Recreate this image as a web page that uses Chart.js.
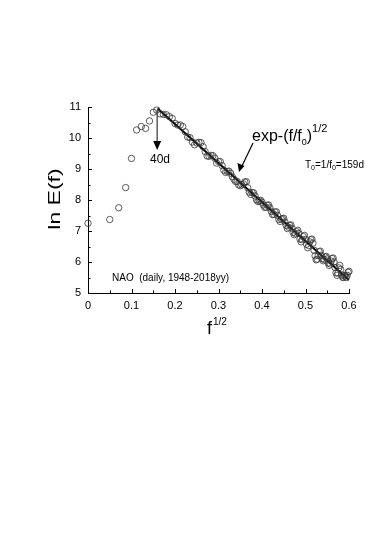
<!DOCTYPE html>
<html>
<head>
<meta charset="utf-8">
<script src="https://cdn.jsdelivr.net/npm/chart.js@4"></script>
<style>
  html, body { margin: 0; padding: 0; background: #fff; }
  #wrap { width: 374px; height: 536px; position: relative; }
</style>
</head>
<body>
<div id="wrap"><canvas id="spec" width="374" height="536"></canvas></div>
<script>
// spectrum points: x = f^(1/2), y = ln E(f)
var sqrtF = [0, 0.05, 0.0707, 0.0866, 0.1, 0.1118, 0.1225, 0.1323, 0.1414, 0.15,
  0.1581, 0.1658, 0.1732, 0.1803, 0.1871, 0.1936, 0.2, 0.2062, 0.2121, 0.2179,
  0.2236, 0.2291, 0.2345, 0.2398, 0.2449, 0.25, 0.255, 0.2598, 0.2646, 0.2693,
  0.2739, 0.2784, 0.2828, 0.2872, 0.2915, 0.2958, 0.3, 0.3041, 0.3082, 0.3122,
  0.3162, 0.3202, 0.324, 0.3279, 0.3317, 0.3354, 0.3391, 0.3428, 0.3464, 0.35,
  0.3536, 0.3571, 0.3606, 0.364, 0.3674, 0.3708, 0.3742, 0.3775, 0.3808, 0.3841,
  0.3873, 0.3905, 0.3937, 0.3969, 0.4, 0.4031, 0.4062, 0.4093, 0.4123, 0.4153,
  0.4183, 0.4213, 0.4243, 0.4272, 0.4301, 0.433, 0.4359, 0.4387, 0.4416, 0.4444,
  0.4472, 0.45, 0.4528, 0.4555, 0.4583, 0.461, 0.4637, 0.4664, 0.469, 0.4717,
  0.4743, 0.477, 0.4796, 0.4822, 0.4848, 0.4873, 0.4899, 0.4924, 0.495, 0.4975,
  0.5, 0.5025, 0.505, 0.5074, 0.5099, 0.5123, 0.5148, 0.5172, 0.5196, 0.522,
  0.5244, 0.5268, 0.5292, 0.5315, 0.5339, 0.5362, 0.5385, 0.5408, 0.5431, 0.5454,
  0.5477, 0.55, 0.5523, 0.5545, 0.5568, 0.559, 0.5612, 0.5635, 0.5657, 0.5679,
  0.5701, 0.5723, 0.5745, 0.5766, 0.5788, 0.581, 0.5831, 0.5852, 0.5874, 0.5895,
  0.5916, 0.5937, 0.5958, 0.5979, 0.6];
var lnE = [7.25, 7.37, 7.75, 8.40, 9.34, 10.26, 10.37, 10.31, 10.55, 10.83,
  10.90, 10.78, 10.76, 10.75, 10.69, 10.63, 10.47, 10.42, 10.42, 10.37,
  10.20, 10.03, 10.01, 9.87, 9.78, 9.84, 9.86, 9.85, 9.72, 9.56,
  9.42, 9.41, 9.44, 9.43, 9.35, 9.19, 9.24, 9.24, 9.11, 8.96,
  8.89, 8.92, 8.93, 8.86, 8.75, 8.67, 8.60, 8.60, 8.49, 8.46,
  8.49, 8.52, 8.58, 8.59, 8.39, 8.25, 8.18, 8.24, 8.23, 8.13,
  8.01, 7.95, 7.97, 7.99, 7.93, 7.84, 7.76, 7.77, 7.83, 7.84,
  7.74, 7.63, 7.53, 7.54, 7.61, 7.62, 7.50, 7.37, 7.31, 7.38,
  7.40, 7.41, 7.29, 7.18, 7.08, 7.12, 7.18, 7.20, 7.09, 6.95,
  6.88, 6.92, 6.98, 7.02, 6.92, 6.74, 6.65, 6.72, 6.82, 6.86,
  6.73, 6.57, 6.46, 6.53, 6.65, 6.72, 6.74, 6.61, 6.38, 6.20,
  6.07, 6.09, 6.21, 6.33, 6.35, 6.22, 6.11, 6.04, 6.08, 6.16,
  6.18, 6.10, 5.97, 5.89, 5.94, 6.03, 6.11, 6.13, 6.00, 5.82,
  5.65, 5.57, 5.64, 5.81, 5.89, 5.76, 5.58, 5.51, 5.50, 5.55,
  5.57, 5.50, 5.57, 5.67, 5.70];

// fitted line exp-(f/f0)^(1/2), T0 = 159d
var fitX = [0.16, 0.6];
var fitY = [10.95, 5.42];

var FONT = "'Liberation Sans', Arial, sans-serif";

var pts = sqrtF.map(function(x, i) { return {x: x, y: lnE[i]}; });
var fitPts = fitX.map(function(x, i) { return {x: x, y: fitY[i]}; });

// inward ticks + labels drawn on top
var decor = {
    id: 'decor',
    afterDraw: function(chart) {
        var c = chart.ctx;
        var xs = chart.scales.x, ys = chart.scales.y;
        var a = chart.chartArea;
        c.save();
        c.strokeStyle = '#000';
        c.lineWidth = 1;
        c.beginPath();
        for (var i = 0; i <= 12; i++) {
            var px = Math.round(xs.getPixelForValue(i * 0.05)) + 0.5;
            var len = (i % 2 == 0) ? 4 : 2.5;
            c.moveTo(px, a.bottom);
            c.lineTo(px, a.bottom - len);
        }
        for (var j = 0; j <= 12; j++) {
            var py = Math.round(ys.getPixelForValue(5 + j * 0.5)) + 0.5;
            var len2 = (j % 2 == 0) ? 4 : 2.5;
            c.moveTo(a.left, py);
            c.lineTo(a.left + len2, py);
        }
        c.stroke();

        c.fillStyle = '#000';
        // y title (narrow, tall glyphs like the original)
        c.save();
        c.translate(55, 199);
        c.scale(0.75, 1);
        c.rotate(-Math.PI / 2);
        c.textAlign = 'center';
        c.textBaseline = 'middle';
        c.font = '23px ' + FONT;
        c.fillText('ln E(f)', 0, 0);
        c.restore();

        // x title f^1/2
        c.textBaseline = 'alphabetic';
        c.textAlign = 'left';
        c.font = '18px ' + FONT;
        c.fillText('f', 207, 334);
        c.font = '10px ' + FONT;
        c.fillText('1/2', 213, 325);

        // 40d arrow
        var ax = xs.getPixelForValue(0.159);
        c.strokeStyle = '#444';
        c.lineWidth = 1.3;
        c.beginPath();
        c.moveTo(ax, ys.getPixelForValue(10.9));
        c.lineTo(ax, 144);
        c.stroke();
        c.beginPath();
        c.moveTo(ax - 4, 141);
        c.lineTo(ax + 4, 141);
        c.lineTo(ax, 150);
        c.closePath();
        c.fill();
        c.font = '12px ' + FONT;
        c.fillText('40d', 150, 163);

        // exp label
        var ex = 252;
        c.font = '16px ' + FONT;
        c.fillText('exp-(f/f', ex, 141);
        ex += c.measureText('exp-(f/f').width;
        c.font = '9px ' + FONT;
        c.fillText('0', ex, 145);
        ex += c.measureText('0').width;
        c.font = '16px ' + FONT;
        c.fillText(')', ex, 141);
        ex += c.measureText(')').width;
        c.font = '11px ' + FONT;
        c.fillText('1/2', ex, 132);

        // arrow to fit line
        c.strokeStyle = '#000';
        c.lineWidth = 1.2;
        c.beginPath();
        c.moveTo(253, 143);
        c.lineTo(241, 168);
        c.stroke();
        c.beginPath();
        c.moveTo(239, 172);
        c.lineTo(237.5, 163);
        c.lineTo(244.5, 166);
        c.closePath();
        c.fill();

        // T0 label
        c.font = '10px ' + FONT;
        var tx = 305;
        c.fillText('T', tx, 168);
        tx += c.measureText('T').width;
        c.font = '7px ' + FONT;
        c.fillText('0', tx, 170);
        tx += c.measureText('0').width;
        c.font = '10px ' + FONT;
        c.fillText('=1/f', tx, 168);
        tx += c.measureText('=1/f').width;
        c.font = '7px ' + FONT;
        c.fillText('0', tx, 170);
        tx += c.measureText('0').width;
        c.font = '10px ' + FONT;
        c.fillText('=159d', tx, 168);

        // dataset label
        c.font = '10px ' + FONT;
        c.fillText('NAO  (daily, 1948-2018yy)', 112, 281);
        c.restore();
    }
};

var ctx = document.getElementById('spec').getContext('2d');
var chart = new Chart(ctx, {
    type: 'scatter',
    data: {
        datasets: [{
            label: 'NAO',
            data: pts,
            showLine: false,
            clip: false,
            pointStyle: 'circle',
            pointRadius: 3.2,
            pointBorderWidth: 0.8,
            pointBorderColor: '#333',
            pointBackgroundColor: 'rgba(0,0,0,0)'
        }, {
            label: 'fit',
            type: 'line',
            data: fitPts,
            borderColor: '#000',
            borderWidth: 2,
            pointRadius: 0,
            fill: false
        }]
    },
    options: {
        responsive: false,
        animation: false,
        maintainAspectRatio: false,
        layout: { padding: { top: 107, right: 25, left: 0, bottom: 0 } },
        plugins: { legend: { display: false }, tooltip: { enabled: false } },
        scales: {
            x: {
                type: 'linear', min: 0, max: 0.6,
                afterFit: function(s) { s.height = 243; },
                grid: { display: true, drawOnChartArea: false, drawTicks: false },
                border: { display: true, color: '#000', width: 1 },
                ticks: {
                    stepSize: 0.1, color: '#000', padding: 6,
                    font: { family: FONT, size: 11 },
                    callback: function(v) { return v == 0 ? '0' : v.toFixed(1); }
                }
            },
            y: {
                min: 5, max: 11,
                afterFit: function(s) { s.width = 88; },
                grid: { display: true, drawOnChartArea: false, drawTicks: false },
                border: { display: true, color: '#000', width: 1 },
                ticks: {
                    stepSize: 1, color: '#000', padding: 7,
                    font: { family: FONT, size: 11 }
                }
            }
        }
    },
    plugins: [decor]
});
</script>
</body>
</html>
